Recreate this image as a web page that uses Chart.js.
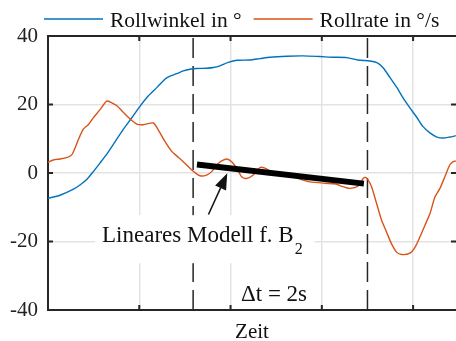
<!DOCTYPE html>
<html>
<head>
<meta charset="utf-8">
<script src="https://cdn.jsdelivr.net/npm/chart.js@4.4.1/dist/chart.umd.min.js"></script>
<style>
  html, body { margin: 0; padding: 0; background: #fff; }
  canvas { display: block; }
</style>
</head>
<body>
<canvas id="roll-chart" width="456" height="341"></canvas>
<script>
// Zeitachse in Gitterteilungen (eine Teilung = ein Gitterabstand)
var t_winkel = [0.000, 0.131, 0.274, 0.350, 0.427, 0.493, 0.569, 0.646, 0.734, 0.821,
                0.920, 0.997, 1.095, 1.194, 1.281, 1.336, 1.410, 1.482, 1.555, 1.629,
                1.738, 1.811, 1.884, 1.975, 2.067, 2.212, 2.322, 2.431, 2.614, 2.796,
                2.979, 3.122, 3.275, 3.395, 3.527, 3.604, 3.669, 3.746, 3.823, 3.888,
                3.965, 4.042, 4.107, 4.184, 4.261, 4.326, 4.403, 4.469];
var rollwinkel = [-7.4, -6.5, -4.8, -3.5, -1.8, 0.3, 2.9, 5.6, 9.1, 12.6,
                  16.2, 19.1, 22.4, 25.0, 27.4, 28.3, 29.0, 29.8, 30.3, 30.5,
                  30.6, 30.8, 31.3, 32.3, 32.9, 33.0, 33.4, 33.8, 34.1, 34.2,
                  34.0, 33.8, 33.7, 33.0, 32.7, 32.2, 30.8, 27.9, 24.9, 22.0,
                  19.0, 16.2, 13.6, 11.7, 10.5, 10.2, 10.5, 10.9];

var t_rate = [0.000, 0.058, 0.131, 0.205, 0.260, 0.296, 0.332, 0.387, 0.441, 0.496,
              0.570, 0.643, 0.698, 0.752, 0.825, 0.898, 0.972, 1.044, 1.153, 1.208,
              1.281, 1.355, 1.410, 1.482, 1.555, 1.610, 1.665, 1.738, 1.793, 1.865,
              1.957, 2.012, 2.067, 2.122, 2.176, 2.249, 2.322, 2.377, 2.468, 2.577,
              2.687, 2.796, 2.870, 3.034, 3.154, 3.231, 3.308, 3.399, 3.453, 3.480,
              3.508, 3.545, 3.600, 3.655, 3.710, 3.764, 3.819, 3.874, 3.965, 4.020,
              4.074, 4.129, 4.184, 4.239, 4.294, 4.348, 4.403, 4.439, 4.469];
var rollrate = [3.1, 3.8, 4.1, 4.5, 5.3, 7.3, 9.7, 12.8, 14.1, 16.1,
                18.5, 21.0, 20.5, 19.7, 17.7, 15.8, 14.3, 14.1, 14.6, 12.6,
                9.2, 6.3, 5.0, 3.3, 1.4, 0.1, -0.8, -0.6, 0.4, 2.8,
                4.1, 3.3, 1.4, -1.1, -1.6, -0.6, 1.6, 1.4, 0.1, -0.4,
                -1.1, -2.1, -2.6, -3.0, -3.2, -4.0, -4.5, -3.8, -1.6, -1.3,
                -2.1, -4.0, -8.9, -13.8, -17.3, -20.7, -23.1, -23.8, -23.4, -21.7,
                -18.7, -15.3, -11.9, -7.0, -4.5, -1.1, 2.4, 3.3, 3.5];

// lineares Modell zwischen den Markierungen
var modell_t = [1.632, 3.461];
var modell_y = [2.5, -3.1];

// Anfang und Ende des Intervalls (Delta t = 2s)
var marker_t = [1.59, 3.50];

var T_MAX = 4.47;
var Y_MIN = -40, Y_MAX = 40, Y_STEP = 20;

var SERIF = '"Liberation Serif", "Times New Roman", serif';
var AXIS_COLOR = '#262626';
var BLUE = '#0072BD';
var ORANGE = '#D95319';

function zip(ts, ys) {
    return ts.map(function (t, i) { return {x: t, y: ys[i]}; });
}

function vline(t) {
    return [{x: t, y: Y_MIN}, {x: t, y: Y_MAX}];
}

// Legende oberhalb des Achsenrahmens
var topLegend = {
    id: 'topLegend',
    afterDraw: function (chart) {
        var ctx = chart.ctx;
        var items = chart.data.datasets.filter(function (d) { return d.inLegend; });
        var x = 44, y = 19;
        ctx.save();
        ctx.font = '21.5px ' + SERIF;
        ctx.textBaseline = 'alphabetic';
        items.forEach(function (d) {
            ctx.strokeStyle = d.borderColor;
            ctx.lineWidth = 1.5;
            ctx.beginPath();
            ctx.moveTo(x, y);
            ctx.lineTo(x + 59, y);
            ctx.stroke();
            ctx.fillStyle = '#111';
            ctx.fillText(d.label, x + 66, 27);
            x += 66 + ctx.measureText(d.label).width + 12;
        });
        ctx.restore();
    }
};

// kurze Striche nach innen an allen vier Rahmenseiten
var innerTicks = {
    id: 'innerTicks',
    afterDraw: function (chart) {
        var ctx = chart.ctx, a = chart.chartArea;
        var xs = chart.scales.x, ys = chart.scales.y;
        ctx.save();
        ctx.strokeStyle = AXIS_COLOR;
        ctx.lineWidth = 2;
        ctx.beginPath();
        xs.ticks.forEach(function (t) {
            if (t.value <= 0 || t.value >= T_MAX) return;
            var px = xs.getPixelForValue(t.value);
            ctx.moveTo(px, a.top); ctx.lineTo(px, a.top + 5);
            ctx.moveTo(px, a.bottom); ctx.lineTo(px, a.bottom - 5);
        });
        ys.ticks.forEach(function (t) {
            if (t.value <= Y_MIN || t.value >= Y_MAX) return;
            var py = ys.getPixelForValue(t.value);
            ctx.moveTo(a.left, py); ctx.lineTo(a.left + 5, py);
            ctx.moveTo(a.right, py); ctx.lineTo(a.right - 5, py);
        });
        ctx.stroke();
        ctx.restore();
    }
};

// Beschriftungen im Diagramm: Pfeil, Modell-Text, Delta t
var annotations = {
    id: 'annotations',
    afterDatasetsDraw: function (chart) {
        var ctx = chart.ctx;
        var xs = chart.scales.x, ys = chart.scales.y;
        ctx.save();

        // Text "Lineares Modell f. B2" mit weissem Hintergrund
        var tx = xs.getPixelForValue(0.592);
        var ty = ys.getPixelForValue(-20.2);
        ctx.font = '23px ' + SERIF;
        var main = 'Lineares Modell f. B';
        var w = ctx.measureText(main).width;
        ctx.font = '16px ' + SERIF;
        var w2 = ctx.measureText('2').width;
        ctx.fillStyle = '#fff';
        ctx.fillRect(tx - 7, ty - 27, w + w2 + 20, 48);
        ctx.fillStyle = '#111';
        ctx.textBaseline = 'alphabetic';
        ctx.font = '23px ' + SERIF;
        ctx.fillText(main, tx, ty);
        ctx.font = '16px ' + SERIF;
        ctx.fillText('2', tx + w + 1, ty + 12);

        // Pfeil vom Text zur Modellgeraden
        var x0 = xs.getPixelForValue(1.758), y0 = ys.getPixelForValue(-12.1);
        var x1 = xs.getPixelForValue(1.964), y1 = ys.getPixelForValue(-0.1);
        var ang = Math.atan2(y1 - y0, x1 - x0);
        var headLen = 16, headW = 6;
        var bx = x1 - headLen * Math.cos(ang), by = y1 - headLen * Math.sin(ang);
        ctx.strokeStyle = '#111';
        ctx.lineWidth = 1.5;
        ctx.beginPath();
        ctx.moveTo(x0, y0);
        ctx.lineTo(bx, by);
        ctx.stroke();
        ctx.fillStyle = '#111';
        ctx.beginPath();
        ctx.moveTo(x1, y1);
        ctx.lineTo(bx + headW * Math.sin(ang), by - headW * Math.cos(ang));
        ctx.lineTo(bx - headW * Math.sin(ang), by + headW * Math.cos(ang));
        ctx.closePath();
        ctx.fill();

        // Intervallbreite
        ctx.font = '23px ' + SERIF;
        ctx.fillText('\u0394t = 2s', xs.getPixelForValue(2.114), ys.getPixelForValue(-37.3));

        ctx.restore();
    }
};

var ctx = document.getElementById('roll-chart');

var chartData = {
    datasets: [{
        label: 'Lineares Modell',
        data: zip(modell_t, modell_y),
        borderColor: '#000',
        borderWidth: 6,
        borderCapStyle: 'butt',
        order: 0,
    }, {
        label: 'Rollwinkel in \u00b0',
        inLegend: true,
        data: zip(t_winkel, rollwinkel),
        borderColor: BLUE,
        borderWidth: 1.4,
        tension: 0.25,
        order: 3,
    }, {
        label: 'Rollrate in \u00b0/s',
        inLegend: true,
        data: zip(t_rate, rollrate),
        borderColor: ORANGE,
        borderWidth: 1.4,
        tension: 0.25,
        order: 2,
    }, {
        label: 'Start',
        data: vline(marker_t[0]),
        borderColor: AXIS_COLOR,
        borderWidth: 1.5,
        borderDash: [20, 8],
        order: 4,
    }, {
        label: 'Ende',
        data: vline(marker_t[1]),
        borderColor: AXIS_COLOR,
        borderWidth: 1.5,
        borderDash: [20, 8],
        order: 4,
    }]
};

var myChart = new Chart(ctx, {
    type: 'line',
    data: chartData,
    options: {
        responsive: false,
        animation: false,
        layout: {padding: 0},
        elements: {point: {radius: 0}},
        plugins: {
            legend: {display: false},
            tooltip: {enabled: false},
        },
        scales: {
            x: {
                type: 'linear',
                position: 'bottom',
                min: 0,
                max: T_MAX,
                ticks: {display: false, stepSize: 1, includeBounds: false},
                grid: {color: '#e3e3e3', lineWidth: 1.5, drawTicks: false},
                border: {color: AXIS_COLOR, width: 2},
                title: {
                    display: true,
                    text: 'Zeit',
                    color: '#111',
                    font: {family: SERIF, size: 21, lineHeight: 1},
                    padding: {top: 0, bottom: -2},
                },
                afterFit: function (s) { s.height = 31; },
            },
            xTop: {
                type: 'linear',
                position: 'top',
                min: 0,
                max: T_MAX,
                ticks: {display: false},
                grid: {display: false, drawTicks: false},
                border: {color: AXIS_COLOR, width: 2},
                afterFit: function (s) { s.height = 36; },
            },
            y: {
                min: Y_MIN,
                max: Y_MAX,
                ticks: {
                    stepSize: Y_STEP,
                    padding: 10,
                    color: '#222',
                    font: {family: SERIF, size: 21},
                },
                grid: {color: '#e3e3e3', lineWidth: 1.5, drawTicks: false},
                border: {color: AXIS_COLOR, width: 2},
                afterFit: function (s) { s.width = 48; },
            },
        },
    },
    plugins: [annotations, innerTicks, topLegend],
});
</script>
</body>
</html>
